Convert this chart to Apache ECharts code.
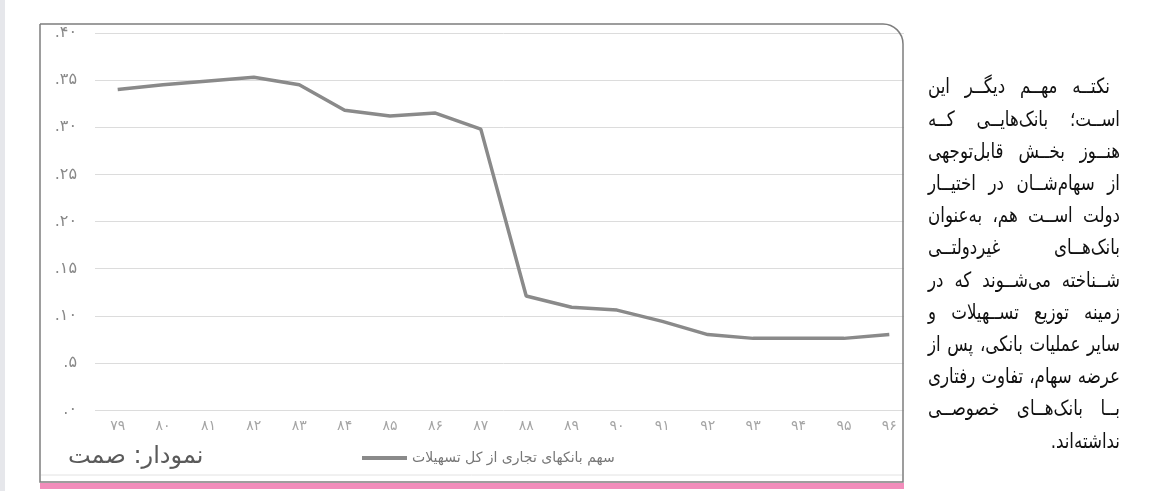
<!DOCTYPE html>
<html lang="fa">
<head>
    <meta charset="UTF-8">
    <title>share</title>
    <style>
        body {
            margin: 0;
            padding: 0;
            background: #fff;
        }
        #chart {
            width: 1163px;
            height: 491px;
        }
    </style>
</head>
<body>
<div id="chart"></div>
<script src="https://cdn.jsdelivr.net/npm/echarts@6/dist/echarts.min.js"></script>
<script>
    // years (solar), share of commercial banks in total loans
    const years = ['۷۹', '۸۰', '۸۱', '۸۲', '۸۳', '۸۴', '۸۵', '۸۶', '۸۷', '۸۸', '۸۹', '۹۰', '۹۱', '۹۲', '۹۳', '۹۴', '۹۵', '۹۶'];
    const share = [34.0, 34.5, 34.9, 35.3, 34.5, 31.8, 31.2, 31.5, 29.8, 12.1, 10.9, 10.6, 9.4, 8.0, 7.6, 7.6, 7.6, 8.0];
    const seriesName = 'سهم بانکهای تجاری از کل تسهیلات';
    const sourceText = 'نمودار: صمت';
    const paraLines = [
        'نکتــه مهــم دیگــر این',
        'اســت؛ بانک‌هایــی کــه',
        'هنــوز بخــش قابل‌توجهی',
        'از سهام‌شــان در اختیــار',
        'دولت اســت هم، به‌عنوان',
        'بانک‌هــای غیردولتــی',
        'شــناخته می‌شــوند که در',
        'زمینه توزیع تســهیلات و',
        'سایر عملیات بانکی، پس از',
        'عرضه سهام، تفاوت رفتاری',
        'بــا بانک‌هــای خصوصــی',
        'نداشته‌اند.'
    ];

    const faDigits = '۰۱۲۳۴۵۶۷۸۹';
    const toFa = (v) => String(v).replace(/\d/g, (d) => faDigits[d]);
    const RLM = '\u200F';

    const font = 'DejaVu Sans';
    const paraSize = 21;
    const paraLeft = 928;
    const paraRight = 1120;
    const firstIndent = 10;
    const lineTop = 88;
    const lineStep = 32.2;
    const minGap = 6;

    const ctx = document.createElement('canvas').getContext('2d');
    ctx.font = paraSize + 'px "' + font + '"';
    const measure = (t) => ctx.measureText(RLM + t + RLM).width;

    // each line is justified by spreading its words between the margins;
    // the glyphs get squeezed a little so the widest line still fits
    function paragraph() {
        const rows = paraLines.map((line, i) => {
            const words = line.split(' ');
            const widths = words.map(measure);
            const total = widths.reduce((a, b) => a + b, 0);
            const right = paraRight - (i === 0 ? firstIndent : 0);
            return {words, widths, total, right};
        });
        let squeeze = 1;
        rows.slice(0, -1).forEach((r) => {
            const room = r.right - paraLeft - minGap * (r.words.length - 1);
            squeeze = Math.min(squeeze, room / r.total);
        });
        const out = [];
        rows.forEach((r, i) => {
            const isLast = i === rows.length - 1;
            const total = r.total * squeeze;
            const gap = (isLast || r.words.length < 2) ? minGap : (r.right - paraLeft - total) / (r.words.length - 1);
            let x = r.right;
            r.words.forEach((w, k) => {
                out.push({
                    type: 'text',
                    x: x,
                    y: lineTop + i * lineStep,
                    scaleX: squeeze,
                    z: 100,
                    silent: true,
                    style: {
                        text: RLM + w + RLM,
                        fontFamily: font,
                        fontSize: paraSize,
                        fill: '#111',
                        align: 'right',
                        verticalAlign: 'middle'
                    }
                });
                x -= r.widths[k] * squeeze + gap;
            });
        });
        return out;
    }

    const chart = echarts.init(document.getElementById('chart'));

    const option = {
        backgroundColor: '#fff',
        animation: false,
        textStyle: {fontFamily: font},
        grid: {
            left: 95,
            right: 251,
            top: 33,
            bottom: 81
        },
        legend: {
            left: 357,
            top: 446,
            itemWidth: 45,
            itemHeight: 4,
            itemGap: 10,
            textStyle: {
                color: '#777',
                fontSize: 14,
                fontFamily: font
            },
            data: [{name: seriesName, icon: 'rect'}]
        },
        xAxis: {
            type: 'category',
            data: years,
            boundaryGap: true,
            axisLine: {show: false},
            axisTick: {show: false},
            axisLabel: {
                color: '#a5a5a5',
                fontSize: 14,
                margin: 9
            }
        },
        yAxis: {
            type: 'value',
            min: 0,
            max: 40,
            interval: 5,
            axisLine: {show: false},
            axisTick: {show: false},
            axisLabel: {
                color: '#888',
                fontSize: 16,
                margin: 18,
                formatter: (v) => '.' + toFa(v)
            },
            splitLine: {
                lineStyle: {color: '#dcdcdc', width: 1}
            }
        },
        series: [
            {
                name: seriesName,
                type: 'line',
                data: share,
                symbol: 'none',
                lineStyle: {color: '#8a8a8a', width: 3.5},
                itemStyle: {color: '#8a8a8a'}
            }
        ],
        graphic: [
            // grey strip on the page edge
            {
                type: 'rect', z: 100, silent: true,
                shape: {x: 0, y: 0, width: 5, height: 491},
                style: {fill: '#e6e7eb'}
            },
            // hide split lines past the frame
            {
                type: 'rect', z: 100, silent: true,
                shape: {x: 904, y: 20, width: 14, height: 400},
                style: {fill: '#fff'}
            },
            // frame around the chart
            {
                type: 'rect', z: 101, silent: true,
                shape: {x: 40, y: 24, width: 863, height: 458, r: [0, 20, 0, 0]},
                style: {fill: 'none', stroke: '#7d7d7d', lineWidth: 1.5}
            },
            {
                type: 'line', z: 101, silent: true,
                shape: {x1: 41, y1: 475, x2: 902, y2: 475},
                style: {stroke: '#e2e2e2', lineWidth: 1}
            },
            {
                type: 'rect', z: 101, silent: true,
                shape: {x: 40, y: 483, width: 864, height: 6},
                style: {fill: '#f28dbb'}
            },
            {
                type: 'text', z: 101, silent: true,
                x: 68, y: 457,
                style: {
                    text: sourceText,
                    fontFamily: font,
                    fontSize: 24,
                    fill: '#5a5a5a',
                    align: 'left',
                    verticalAlign: 'middle'
                }
            }
        ].concat(paragraph())
    };

    chart.setOption(option);
</script>
</body>
</html>
